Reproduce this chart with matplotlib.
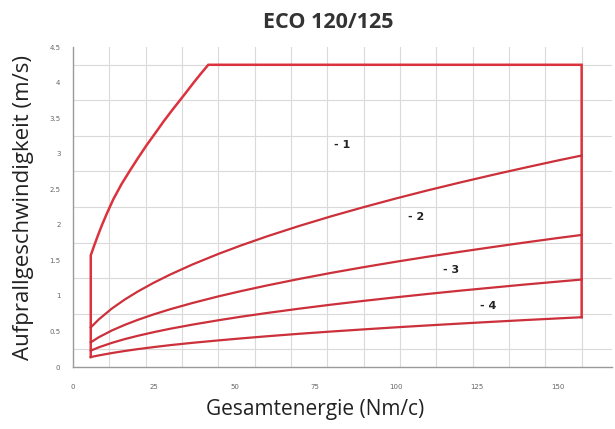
import matplotlib
matplotlib.use("Agg")
import matplotlib.pyplot as plt
import numpy as np

# ---- data ----
title = "ECO 120/125"
xlabel = "Gesamtenergie (Nm/c)"
ylabel = "Aufprallgeschwindigkeit (m/s)"

x_ticks = [0, 25, 50, 75, 100, 125, 150]
x_ticklabels = ["0", "25", "50", "75", "100", "125", "150"]
y_ticks = [0, 0.5, 1, 1.5, 2, 2.5, 3, 3.5, 4, 4.5]
y_ticklabels = ["0", "0.5", "1", "1.5", "2", "2.5", "3", "3.5", "4", "4.5"]

# outer boundary (left edge + curve 1 + top plateau + right edge)
outline_x = [5.5, 5.5, 6.5, 7.8, 9.0, 10.5, 12.5, 15.0, 17.6, 20.0, 22.8,
             25.5, 28.0, 30.5, 33.1, 35.0, 37.2, 39.5, 41.9, 157.5, 157.5]
outline_y = [0.14, 1.57, 1.70, 1.86, 2.00, 2.16, 2.36, 2.57, 2.76, 2.93, 3.12,
             3.29, 3.45, 3.60, 3.75, 3.86, 3.99, 4.12, 4.25, 4.25, 0.70]

curve_x = [5.5, 8, 12, 16, 20, 25, 30, 37, 45, 52, 60, 70, 80, 90, 100,
           110, 120, 130, 140, 150, 157.5]
curve2_y = [0.556, 0.670, 0.821, 0.948, 1.060, 1.185, 1.298, 1.442, 1.590,
            1.709, 1.836, 1.983, 2.120, 2.248, 2.370, 2.486, 2.596, 2.702,
            2.804, 2.903, 2.974]
curve3_y = [0.347, 0.419, 0.513, 0.592, 0.662, 0.740, 0.811, 0.900, 0.993,
            1.067, 1.146, 1.238, 1.324, 1.404, 1.480, 1.552, 1.621, 1.687,
            1.751, 1.813, 1.857]
curve4_y = [0.230, 0.277, 0.339, 0.392, 0.438, 0.490, 0.537, 0.596, 0.657,
            0.707, 0.759, 0.820, 0.877, 0.930, 0.980, 1.028, 1.074, 1.117,
            1.160, 1.200, 1.230]
curve5_y = [0.140, 0.163, 0.196, 0.225, 0.251, 0.280, 0.307, 0.340, 0.374,
            0.402, 0.432, 0.467, 0.499, 0.529, 0.558, 0.585, 0.611, 0.636,
            0.660, 0.683, 0.700]

zone_labels = ["- 1", "- 2", "- 3", "- 4"]
zone_x = [83.3, 106.4, 117.2, 128.6]
zone_y = [3.12, 2.11, 1.37, 0.86]

# ---- drawing ----
fig = plt.figure(figsize=(6.15, 4.29), dpi=100)
ax = fig.add_axes([73 / 615, 62 / 429, 539 / 615, 320 / 429])

ax.set_xlim(0, 166.9)
ax.set_ylim(0, 4.5)

# grid
ax.set_xticks(np.arange(0, 166, 11.25), minor=True)
ax.set_yticks(np.arange(0, 4.51, 0.25), minor=True)
ax.grid(which="minor", color="#dadada", linewidth=0.8)
ax.tick_params(which="minor", length=0)

ax.set_xticks(x_ticks)
ax.set_xticklabels(x_ticklabels)
ax.set_yticks(y_ticks)
ax.set_yticklabels(y_ticklabels)
ax.tick_params(which="major", length=0, labelsize=5, labelcolor="#666666")
ax.tick_params(axis="x", pad=12)
ax.tick_params(axis="y", pad=9)

for s in ["top", "right"]:
    ax.spines[s].set_visible(False)
for s in ["left", "bottom"]:
    ax.spines[s].set_color("#9a9a9a")
    ax.spines[s].set_linewidth(1.0)

red = "#dc323d"
ax.plot(outline_x, outline_y, color=red, lw=1.8, solid_joinstyle="miter", zorder=3)
for cy in [curve2_y, curve3_y, curve4_y, curve5_y]:
    ax.plot(curve_x, cy, color="#cc303a", lw=1.6, zorder=3)

for t, x, y in zip(zone_labels, zone_x, zone_y):
    ax.text(x, y, t, fontsize=8, fontweight="bold", color="#222222",
            ha="center", va="center", family="DejaVu Sans")

fig.text(328 / 615, 1 - 22 / 429, title, fontsize=15.5, fontweight="bold",
         color="#333333", ha="center", va="center", family="Open Sans")
fig.text(315 / 615, 1 - 410 / 429, xlabel, fontsize=15, color="#222222",
         ha="center", va="center", family="Open Sans")
fig.text(24 / 615, 1 - 208 / 429, ylabel, fontsize=16, color="#222222",
         ha="center", va="center", rotation=90, family="Open Sans")

fig.savefig("out.png", dpi=100)
